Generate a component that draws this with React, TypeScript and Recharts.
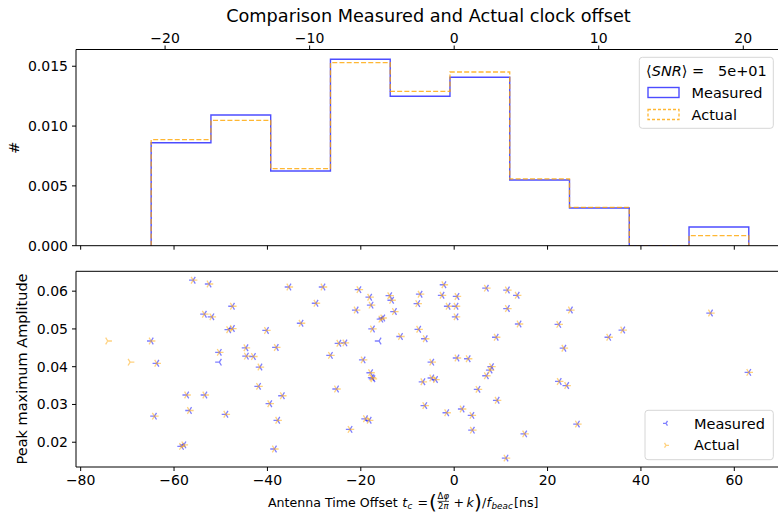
import React from "react";
import { LineChart, Line, XAxis, YAxis, ScatterChart, Scatter, ReferenceLine } from "recharts";

const FONT = "DejaVu Sans";

// histogram of the clock offsets (ns), density per bin
const binEdges = [-64.9, -52.1, -39.3, -26.5, -13.7, -0.9, 11.9, 24.7, 37.5, 50.3, 63.1];
const measuredDensity = [0.00861, 0.01093, 0.00624, 0.01558, 0.01249, 0.01408, 0.00549, 0.00315, 0, 0.00156];
const actualDensity = [0.00886, 0.01048, 0.00644, 0.0153, 0.0129, 0.01452, 0.00558, 0.00321, 0, 0.00084];

const bottomTicks = [-80, -60, -40, -20, 0, 20, 40, 60];
const topTicks = [-20, -10, 0, 10, 20];
const densityTicks = [0, 0.005, 0.01, 0.015];
const amplitudeTicks = [0.02, 0.03, 0.04, 0.05, 0.06];

// [time offset ns, peak amplitude]
const measuredPoints: [number, number][] = [
  [-55.9, 0.0629], [-52.5, 0.0619], [-53.5, 0.0539], [-64.9, 0.0468], [-63.7, 0.0409],
  [-57.3, 0.0325], [-53.4, 0.0325], [-56.7, 0.0284], [-64.2, 0.0269], [-58.4, 0.0189],
  [-57.9, 0.0193], [-51.9, 0.0532], [-47.5, 0.056], [-48.3, 0.0498], [-47.5, 0.0501],
  [-50.3, 0.0438], [-50.3, 0.0412], [-44.6, 0.045], [-44.5, 0.0428], [-43.0, 0.0427],
  [-41.6, 0.0399], [-41.9, 0.0348], [-48.9, 0.0274], [-40.2, 0.0496], [-39.5, 0.0302],
  [-35.4, 0.0611], [-28.1, 0.0611], [-29.6, 0.0568], [-32.8, 0.0515], [-38.1, 0.0451],
  [-36.8, 0.0323], [-37.8, 0.0258], [-38.5, 0.0182], [-20.4, 0.0604], [-18.1, 0.0584],
  [-17.8, 0.0563], [-21.0, 0.055], [-15.7, 0.0526], [-15.3, 0.0529], [-17.5, 0.05],
  [-16.1, 0.0468], [-24.7, 0.0462], [-23.4, 0.0463], [-26.5, 0.043], [-19.5, 0.0418],
  [-17.9, 0.0384], [-17.6, 0.0371], [-17.4, 0.0368], [-25.2, 0.0341], [-19.0, 0.0262],
  [-18.2, 0.0258], [-22.3, 0.0234], [-13.8, 0.0588], [-13.4, 0.0576], [-7.3, 0.0592],
  [-12.8, 0.0546], [-7.8, 0.0567], [-7.6, 0.0499], [-11.5, 0.048], [-6.2, 0.0474],
  [-6.7, 0.036], [-6.3, 0.0297], [-2.2, 0.0617], [-2.6, 0.0589], [-1.3, 0.056],
  [-4.8, 0.0412], [-4.8, 0.037], [-4.0, 0.0366], [-1.6, 0.0278], [6.9, 0.0608],
  [11.4, 0.0603], [0.6, 0.0586], [0.4, 0.056], [11.4, 0.0554], [0.4, 0.0532],
  [9.0, 0.0478], [0.6, 0.0423], [3.0, 0.0421], [8.0, 0.04], [7.7, 0.0391],
  [6.9, 0.0376], [5.1, 0.034], [9.2, 0.0311], [1.7, 0.0288], [3.8, 0.0271],
  [3.9, 0.0232], [11.1, 0.0158], [13.5, 0.0589], [13.9, 0.0513], [22.4, 0.0512],
  [23.5, 0.0449], [22.5, 0.0361], [24.1, 0.035], [15.1, 0.0222], [24.9, 0.055],
  [26.4, 0.0248], [33.1, 0.0478], [36.1, 0.0497], [54.9, 0.0542], [63.1, 0.0385],
];

const actualPoints: [number, number][] = [
  [-55.9, 0.0629], [-52.5, 0.0619], [-53.5, 0.0539], [-64.9, 0.0468], [-63.7, 0.0409],
  [-57.3, 0.0325], [-53.4, 0.0325], [-56.7, 0.0284], [-64.2, 0.0269], [-58.4, 0.0189],
  [-57.9, 0.0193], [-51.9, 0.0532], [-47.5, 0.056], [-48.3, 0.0498], [-47.5, 0.0501],
  [-50.3, 0.0438], [-69.4, 0.0412], [-44.6, 0.045], [-44.5, 0.0428], [-43.0, 0.0427],
  [-41.6, 0.0399], [-41.9, 0.0348], [-48.9, 0.0274], [-40.2, 0.0496], [-39.5, 0.0302],
  [-35.4, 0.0611], [-28.1, 0.0611], [-29.6, 0.0568], [-32.8, 0.0515], [-38.1, 0.0451],
  [-36.8, 0.0323], [-37.8, 0.0258], [-38.5, 0.0182], [-20.4, 0.0604], [-18.1, 0.0584],
  [-17.8, 0.0563], [-21.0, 0.055], [-15.7, 0.0526], [-15.3, 0.0529], [-17.5, 0.05],
  [-74.2, 0.0468], [-24.7, 0.0462], [-23.4, 0.0463], [-26.5, 0.043], [-19.5, 0.0418],
  [-17.9, 0.0384], [-17.6, 0.0371], [-17.4, 0.0368], [-25.2, 0.0341], [-19.0, 0.0262],
  [-18.2, 0.0258], [-22.3, 0.0234], [-13.8, 0.0588], [-13.4, 0.0576], [-7.3, 0.0592],
  [-12.8, 0.0546], [-7.8, 0.0567], [-7.6, 0.0499], [-11.5, 0.048], [-6.2, 0.0474],
  [-6.7, 0.036], [-6.3, 0.0297], [-2.2, 0.0617], [-2.6, 0.0589], [-1.3, 0.056],
  [-4.8, 0.0412], [-4.8, 0.037], [-4.0, 0.0366], [-1.6, 0.0278], [6.9, 0.0608],
  [11.4, 0.0603], [0.6, 0.0586], [0.4, 0.056], [11.4, 0.0554], [0.4, 0.0532],
  [9.0, 0.0478], [0.6, 0.0423], [3.0, 0.0421], [8.0, 0.04], [7.7, 0.0391],
  [6.9, 0.0376], [5.1, 0.034], [9.2, 0.0311], [1.7, 0.0288], [3.8, 0.0271],
  [3.9, 0.0232], [11.1, 0.0158], [13.5, 0.0589], [13.9, 0.0513], [22.4, 0.0512],
  [23.5, 0.0449], [22.5, 0.0361], [24.1, 0.035], [15.1, 0.0222], [24.9, 0.055],
  [26.4, 0.0248], [33.1, 0.0478], [36.1, 0.0497], [54.9, 0.0542], [63.1, 0.0385],
];

const X_DOMAIN: [number, number] = [-81, 70];
const TOP_RATIO = 3.096; // ns per unit on the top axis
const AMP_DOMAIN: [number, number] = [0.01344, 0.06526];

const BLUE = "blue";
const ORANGE = "orange";

// outline of a step histogram (histtype="step")
function stepOutline(edges: number[], heights: number[]) {
  const pts = [{ x: edges[0], y: 0 }];
  heights.forEach((h, i) => {
    pts.push({ x: edges[i], y: h });
    pts.push({ x: edges[i + 1], y: h });
  });
  pts.push({ x: edges[edges.length - 1], y: 0 });
  return pts;
}

const fmt = (v: number) => (v < 0 ? "\u2212" + Math.abs(v) : String(v));

const tickStyle = { fill: "#000", fontSize: 14, fontFamily: FONT };

function triPath(cx: number, cy: number, r: number, dir: "left" | "right") {
  const s = dir === "left" ? -1 : 1;
  return `M${cx},${cy}L${cx + s * r},${cy}M${cx},${cy}L${cx - s * 0.5 * r},${cy - 0.8 * r}M${cx},${cy}L${cx - s * 0.5 * r},${cy + 0.8 * r}`;
}

const TriLeft = (props: any) => (
  <path d={triPath(props.cx, props.cy, 4.2, "left")} stroke={BLUE} strokeOpacity={0.5} strokeWidth={1.3} fill="none" />
);
const TriRight = (props: any) => (
  <path d={triPath(props.cx, props.cy, 4.2, "right")} stroke={ORANGE} strokeOpacity={0.5} strokeWidth={1.3} fill="none" />
);

export default function App() {
  const measuredStep = stepOutline(binEdges, measuredDensity);
  const actualStep = stepOutline(binEdges, actualDensity);
  const measuredData = measuredPoints.map(([x, y]) => ({ x, y }));
  const actualData = actualPoints.map(([x, y]) => ({ x, y }));
  // invisible helper so the secondary (top) axis gets drawn
  const topAxisData = topTicks.map((t) => ({ x: t, y: 0 }));

  return (
    <div style={{ position: "absolute", left: 0, top: 0, width: 778, height: 516, overflow: "hidden", background: "#fff" }}>
      <div style={{ position: "absolute", left: 0, top: 0 }}>
        <LineChart width={790} height={262} margin={{ top: 0, right: 9, bottom: 0, left: 0 }}>
          <XAxis
            xAxisId="ns"
            type="number"
            dataKey="x"
            domain={X_DOMAIN}
            allowDataOverflow
            ticks={bottomTicks}
            interval={0}
            tickFormatter={() => ""}
            tickSize={4}
            height={16.3}
            stroke="#000"
            axisLine={{ stroke: "#000" }}
            tickLine={{ stroke: "#000" }}
          />
          <XAxis
            xAxisId="top"
            orientation="top"
            type="number"
            dataKey="x"
            domain={[X_DOMAIN[0] / TOP_RATIO, X_DOMAIN[1] / TOP_RATIO]}
            allowDataOverflow
            ticks={topTicks}
            interval={0}
            tickFormatter={fmt}
            tickSize={4}
            tickMargin={3}
            height={49.5}
            stroke="#000"
            tick={tickStyle}
            axisLine={{ stroke: "#000" }}
            tickLine={{ stroke: "#000" }}
          />
          <YAxis
            type="number"
            domain={[0, 0.0164]}
            allowDataOverflow
            ticks={densityTicks}
            interval={0}
            tickFormatter={(v: number) => v.toFixed(3)}
            tickSize={4}
            tickMargin={4}
            width={76}
            stroke="#000"
            tick={tickStyle}
            axisLine={{ stroke: "#000" }}
            tickLine={{ stroke: "#000" }}
          />
          <Line
            xAxisId="top"
            data={topAxisData}
            dataKey="y"
            stroke="none"
            dot={false}
            activeDot={false}
            legendType="none"
            isAnimationActive={false}
          />
          <Line
            xAxisId="ns"
            data={measuredStep}
            dataKey="y"
            type="linear"
            stroke={BLUE}
            strokeOpacity={0.7}
            strokeWidth={1.4}
            dot={false}
            isAnimationActive={false}
          />
          <Line
            xAxisId="ns"
            data={actualStep}
            dataKey="y"
            type="linear"
            stroke={ORANGE}
            strokeOpacity={0.8}
            strokeWidth={1.3}
            strokeDasharray="5 2.2"
            dot={false}
            isAnimationActive={false}
          />
        </LineChart>
      </div>

      <div style={{ position: "absolute", left: 0, top: 252 }}>
        <ScatterChart width={790} height={264} margin={{ top: 19.3, right: 9, bottom: 0, left: 0 }}>
          <XAxis
            xAxisId="ns"
            type="number"
            dataKey="x"
            domain={X_DOMAIN}
            allowDataOverflow
            ticks={bottomTicks}
            interval={0}
            tickFormatter={fmt}
            tickSize={4}
            tickMargin={4}
            height={49}
            stroke="#000"
            tick={tickStyle}
            axisLine={{ stroke: "#000" }}
            tickLine={{ stroke: "#000" }}
          />
          <YAxis
            type="number"
            dataKey="y"
            domain={AMP_DOMAIN}
            allowDataOverflow
            ticks={amplitudeTicks}
            interval={0}
            tickFormatter={(v: number) => v.toFixed(2)}
            tickSize={4}
            tickMargin={4}
            width={76}
            stroke="#000"
            tick={tickStyle}
            axisLine={{ stroke: "#000" }}
            tickLine={{ stroke: "#000" }}
          />
          {/* top spine */}
          <ReferenceLine xAxisId="ns" y={AMP_DOMAIN[1]} stroke="#000" strokeWidth={1} />
          <Scatter xAxisId="ns" name="Measured" data={measuredData} shape={TriLeft} isAnimationActive={false} />
          <Scatter xAxisId="ns" name="Actual" data={actualData} shape={TriRight} isAnimationActive={false} />
        </ScatterChart>
      </div>

      <svg width={778} height={516} style={{ position: "absolute", left: 0, top: 0, pointerEvents: "none" }} fontFamily={FONT}>
        <text x={428.5} y={22} textAnchor="middle" fontSize={17.7} fill="#000">
          Comparison Measured and Actual clock offset
        </text>
        <text transform="translate(19,147.6) rotate(-90)" textAnchor="middle" fontSize={14.5} fill="#000">
          #
        </text>
        <text transform="translate(27,369) rotate(-90)" textAnchor="middle" fontSize={14.5} fill="#000">
          Peak maximum Amplitude
        </text>

        {/* x label with the mathtext part */}
        <g fill="#000">
          <text x={268} y={506.7} fontSize={12.6}>Antenna Time Offset</text>
          <text x={402.3} y={506.7} fontSize={12.6} fontStyle="italic">t</text>
          <text x={407.5} y={509.3} fontSize={8.8} fontStyle="italic">c</text>
          <text x={417.5} y={506.7} fontSize={12.6}>=</text>
          <text x={429} y={509.3} fontSize={20}>(</text>
          <text x={443.3} y={498.8} fontSize={8.5} textAnchor="middle">Δ<tspan fontStyle="italic">φ</tspan></text>
          <line x1={437.5} x2={449} y1={501.4} y2={501.4} stroke="#000" strokeWidth={0.7} />
          <text x={443.3} y={509.4} fontSize={8.5} textAnchor="middle">2<tspan fontStyle="italic">π</tspan></text>
          <text x={453.5} y={506.7} fontSize={12.6}>+</text>
          <text x={466.5} y={506.7} fontSize={12.6} fontStyle="italic">k</text>
          <text x={474} y={509.3} fontSize={20}>)</text>
          <text x={482} y={506.7} fontSize={12.6}>/</text>
          <text x={486.5} y={506.7} fontSize={12.6} fontStyle="italic">f</text>
          <text x={491.5} y={509.3} fontSize={8.8} fontStyle="italic">beac</text>
          <text x={514} y={506.7} fontSize={12.6}>[ns]</text>
        </g>

        {/* histogram legend */}
        <rect x={639.3} y={57.3} width={134} height={71} rx={3} fill="#fff" fillOpacity={0.8} stroke="#d6d6d6" strokeWidth={1} />
        <text x={646} y={75.5} fontSize={14.5} fill="#000">
          ⟨<tspan fontStyle="italic">SNR</tspan>⟩{"\u00a0=\u00a0\u00a0\u00a05e+01"}
        </text>
        <rect x={648} y={87.5} width={31} height={10} fill="none" stroke={BLUE} strokeOpacity={0.7} strokeWidth={1.4} />
        <text x={691.5} y={98} fontSize={14.5} fill="#000">Measured</text>
        <rect x={648} y={109.5} width={31} height={10} fill="none" stroke={ORANGE} strokeOpacity={0.8} strokeWidth={1.3} strokeDasharray="3 2" />
        <text x={691.5} y={120} fontSize={14.5} fill="#000">Actual</text>

        {/* scatter legend */}
        <rect x={645} y={410.3} width={128.3} height={49.4} rx={3} fill="#fff" fillOpacity={0.8} stroke="#d6d6d6" strokeWidth={1} />
        <path d={triPath(666, 423.3, 3, "left")} stroke={BLUE} strokeOpacity={0.5} strokeWidth={1.3} fill="none" />
        <text x={694} y={428.5} fontSize={14.5} fill="#000">Measured</text>
        <path d={triPath(666, 445.3, 3, "right")} stroke={ORANGE} strokeOpacity={0.5} strokeWidth={1.3} fill="none" />
        <text x={694} y={450.3} fontSize={14.5} fill="#000">Actual</text>
      </svg>
    </div>
  );
}
